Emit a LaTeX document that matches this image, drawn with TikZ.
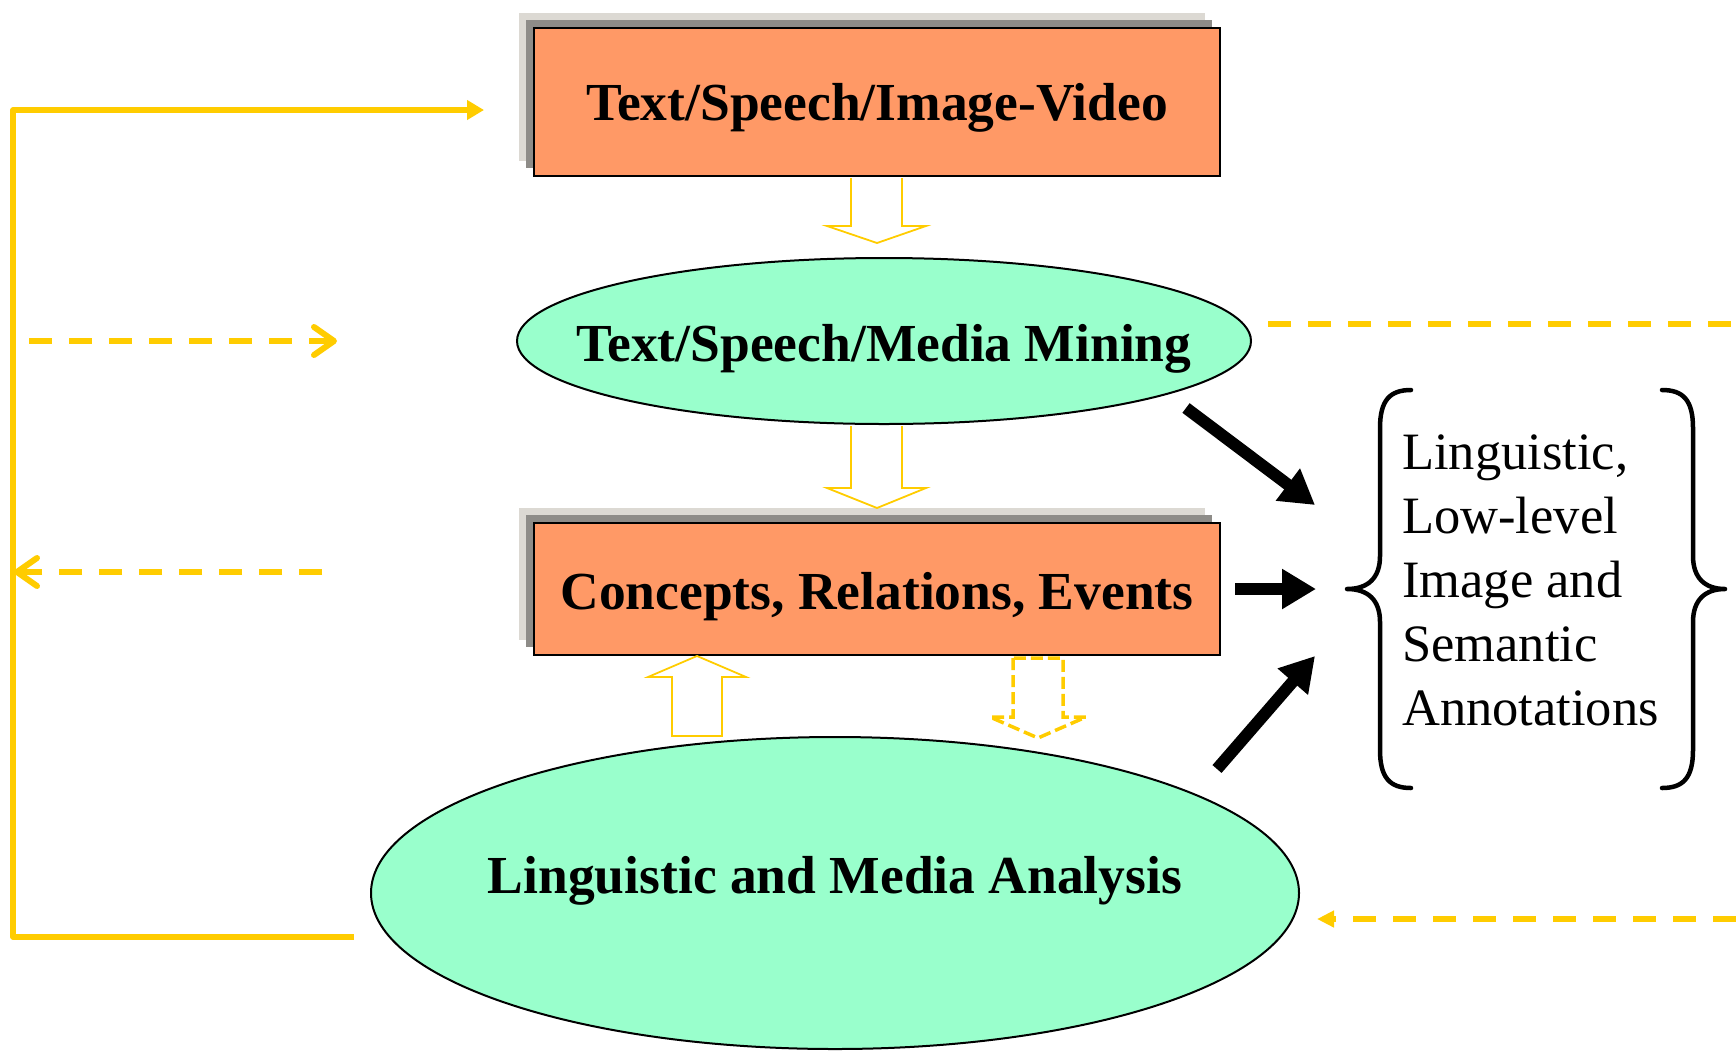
\documentclass[tikz,border=0pt]{standalone}
\usepackage{fontspec}
\setmainfont{Liberation Serif}
\usetikzlibrary{arrows.meta,shapes.geometric,shadows,calc}
\definecolor{boxorange}{HTML}{FF9966}
\definecolor{mint}{HTML}{99FFCC}
\definecolor{gold}{HTML}{FFCC00}
\definecolor{shlight}{HTML}{DCD9D3}
\definecolor{shdark}{HTML}{8E8C88}
\begin{document}
\begin{tikzpicture}[x=1pt,y=-1pt,
  titlefont/.style={font=\bfseries\fontsize{53.5}{60}\selectfont},
  annfont/.style={font=\fontsize{52.5}{64}\selectfont},
  orangebox/.style={rectangle, draw=black, line width=2pt, fill=boxorange, inner sep=0pt,
    copy shadow={shadow xshift=-15pt, shadow yshift=15pt, fill=shlight, draw=none},
    copy shadow={shadow xshift=-8pt, shadow yshift=8pt, fill=shdark, draw=none}},
  mintell/.style={ellipse, draw=black, line width=2pt, fill=mint, inner sep=0pt},
  textlabel/.style={titlefont, anchor=base, inner sep=0pt},
  annline/.style={annfont, anchor=base west, inner sep=0pt},
  hollow/.style={draw=gold, line width=1.8pt, line join=miter},
  hollowdash/.style={draw=gold, line width=3.5pt, dash pattern=on 12pt off 5pt},
  goldline/.style={draw=gold, line width=5.5pt, line join=round},
  golddash/.style={draw=gold, line width=6pt, dash pattern=on 23pt off 17pt},
  chevron/.style={-{Straight Barb[length=20pt,width=28pt,round]}},
  bigarrow/.style={draw=black, line width=12pt, -{Triangle[length=34pt,width=38pt]}},
  bracepath/.style={draw=black, line width=4.5pt, line cap=round, line join=round}
]
\useasboundingbox (0,0) rectangle (1736,1050);

% main nodes
\node[orangebox, minimum width=686pt, minimum height=148pt] (src) at (877,102) {};
\node[textlabel] (srct) at (877,120) {Text/Speech/Image-Video};

\node[mintell, minimum width=734pt, minimum height=166pt] (mine) at (884,341) {};
\node[textlabel] (minet) at (884,361) {Text/Speech/Media Mining};

\node[orangebox, minimum width=686pt, minimum height=132pt] (cre) at (877,589) {};
\node[textlabel] (cret) at (877,609) {Concepts, Relations, Events};

\node[mintell, minimum width=928pt, minimum height=312pt] (lma) at (835,893) {};
\node[textlabel] (lmat) at (835,893) {Linguistic and Media Analysis};

% annotation text
\node[annline] (ann1) at (1402,469) {Linguistic,};
\node[annline] (ann2) at (1402,533) {Low-level};
\node[annline] (ann3) at (1402,597) {Image and};
\node[annline] (ann4) at (1402,661) {Semantic};
\node[annline] (ann5) at (1402,725) {Annotations};

% braces
\draw[bracepath] (1411,390) .. controls (1390,390) and (1380,400) .. (1380,428)
  -- (1380,556) .. controls (1380,578) and (1368,589) .. (1347,589)
  .. controls (1368,589) and (1380,600) .. (1380,622)
  -- (1380,750) .. controls (1380,778) and (1390,788) .. (1411,788);
\draw[bracepath] (1662,390) .. controls (1683,390) and (1693,400) .. (1693,428)
  -- (1693,556) .. controls (1693,578) and (1705,589) .. (1725,589)
  .. controls (1705,589) and (1693,600) .. (1693,622)
  -- (1693,750) .. controls (1693,778) and (1683,788) .. (1662,788);

% hollow block arrows
\draw[hollow] ($(src.south)+(-26,1)$) -- ++(0,48) -- ++(-24,0) -- ++(50,17) -- ++(49,-17) -- ++(-24,0) -- ++(0,-48);
\draw[hollow] ($(mine.south -| src.south)+(-26,1)$) -- ++(0,62) -- ++(-24,0) -- ++(50,20) -- ++(49,-20) -- ++(-24,0) -- ++(0,-62);
\draw[hollow] ($(cre.south)+(-205,80)$) -- ++(0,-59) -- ++(-24,0) -- ++(49,-21) -- ++(49,21) -- ++(-24,0) -- ++(0,59) -- cycle;
\draw[hollowdash] ($(cre.south)+(136,2)$) -- ++(0,59) -- ++(-23,0) -- ++(48,21) -- ++(48,-21) -- ++(-23,0) -- ++(0,-59) -- cycle;

% black arrows
\coordinate (b1s) at (1186,408);
\coordinate (b1e) at (1315,505);
\coordinate (b2s) at (1235,589);
\coordinate (b2e) at (1316,589);
\coordinate (b3s) at (1217,769);
\coordinate (b3e) at (1315,656);
\draw[bigarrow] (b1s) -- (b1e);
\draw[bigarrow] (b2s) -- (b2e);
\draw[bigarrow] (b3s) -- (b3e);

% solid yellow feedback loop
\coordinate (fb1) at (354,937);
\coordinate (fb2) at (13,937);
\coordinate (fb3) at (13,110);
\coordinate (fb4) at (484,110);
\draw[goldline, -{Triangle[length=17pt,width=19pt]}] (fb1) -- (fb2) -- (fb3) -- (fb4);

% dashed yellow arrows
\coordinate (d1s) at (29,341);
\coordinate (d1e) at (337,341);
\draw[golddash, chevron] (d1s) -- (d1e);
\coordinate (d2s) at (322,572);
\coordinate (d2e) at (14,572);
\draw[golddash, chevron] (d2s) -- (d2e);
\coordinate (d3s) at (1268,324);
\coordinate (d3e) at (1736,324);
\draw[golddash] (d3s) -- (d3e);
\coordinate (d4s) at (1736,919);
\coordinate (d4e) at (1317,919);
\draw[golddash, -{Triangle[length=17pt,width=16pt]}] (d4s) -- (d4e);
\end{tikzpicture}
\end{document}
